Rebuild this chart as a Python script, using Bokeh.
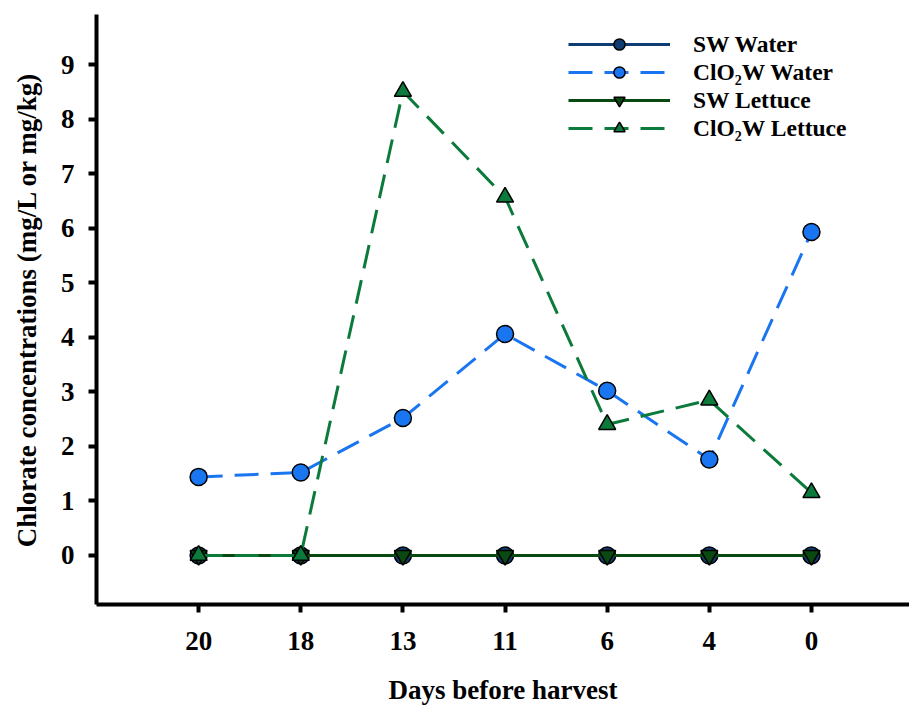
from bokeh.plotting import figure
from bokeh.models import Range1d, FixedTicker, Legend, LegendItem
from bokeh.embed import file_html
from bokeh.resources import INLINE

# Sampling days (days before harvest), plotted at evenly spaced positions
days = ["20", "18", "13", "11", "6", "4", "0"]

# Chlorate concentrations (mg/L for water, mg/kg for lettuce)
sw_water = [0.0, 0.0, 0.0, 0.0, 0.0, 0.0, 0.0]
clo2w_water = [1.44, 1.52, 2.52, 4.06, 3.02, 1.76, 5.93]
sw_lettuce = [0.0, 0.0, 0.0, 0.0, 0.0, 0.0, 0.0]
clo2w_lettuce = [0.0, 0.0, 8.51, 6.57, 2.40, 2.85, 1.15]

y_ticks = [0, 1, 2, 3, 4, 5, 6, 7, 8, 9]

FONT = "'Liberation Serif', 'Times New Roman', serif"
xs = list(range(len(days)))

p = figure(width=909, height=710, output_backend="svg", toolbar_location=None,
           x_range=Range1d(-1, 6.96), y_range=Range1d(-0.9, 9.92),
           min_border_left=96, min_border_right=0, min_border_top=14,
           min_border_bottom=106)

p.outline_line_color = None
p.grid.visible = False
p.background_fill_color = "white"

# Axes
for ax in (p.xaxis[0], p.yaxis[0]):
    ax.axis_line_width = 4
    ax.axis_line_color = "black"
    ax.major_tick_line_width = 4
    ax.major_tick_line_color = "black"
    ax.major_tick_out = 8
    ax.major_tick_in = 0
    ax.minor_tick_line_color = None
    ax.major_label_text_font = FONT
    ax.major_label_text_font_style = "bold"
    ax.major_label_text_font_size = "27px"
    ax.major_label_text_color = "black"
    ax.axis_label_text_font = FONT
    ax.axis_label_text_font_style = "bold"
    ax.axis_label_text_font_size = "27px"
    ax.axis_label_text_color = "black"

p.xaxis.ticker = FixedTicker(ticks=xs)
p.xaxis.major_label_overrides = {i: d for i, d in enumerate(days)}
p.xaxis.major_label_standoff = 19
p.xaxis.axis_label = "Days before harvest"
p.xaxis.axis_label_standoff = 22

p.yaxis.ticker = FixedTicker(ticks=y_ticks)
p.yaxis.major_label_standoff = 14
p.yaxis.axis_label = "Chlorate concentrations (mg/L or mg/kg)"
p.yaxis.axis_label_standoff = 16

# Series
c_sw_w = "#0f3c73"
c_cl_w = "#1a75f0"
c_sw_l = "#0a4a12"
c_cl_l = "#0b7a3a"
dash = "24 12"

l1 = p.line(xs, sw_water, line_color=c_sw_w, line_width=3)
m1 = p.scatter(xs, sw_water, marker="circle", size=17, fill_color=c_sw_w,
               line_color="black", line_width=1.5)

l2 = p.line(xs, clo2w_water, line_color=c_cl_w, line_width=3, line_dash=dash)
m2 = p.scatter(xs, clo2w_water, marker="circle", size=17, fill_color=c_cl_w,
               line_color="black", line_width=1.5)

l3 = p.line(xs, sw_lettuce, line_color=c_sw_l, line_width=3)
m3 = p.scatter(xs, sw_lettuce, marker="inverted_triangle", size=17,
               fill_color=c_sw_l, line_color="black", line_width=1.5)

l4 = p.line(xs, clo2w_lettuce, line_color=c_cl_l, line_width=3, line_dash=dash)
m4 = p.scatter(xs, clo2w_lettuce, marker="triangle", size=17,
               fill_color=c_cl_l, line_color="black", line_width=1.5)

legend = Legend(items=[
    LegendItem(label="SW Water", renderers=[l1, m1]),
    LegendItem(label="ClO\u2082W Water", renderers=[l2, m2]),
    LegendItem(label="SW Lettuce", renderers=[l3, m3]),
    LegendItem(label="ClO\u2082W Lettuce", renderers=[l4, m4]),
])
legend.location = (472, 462)
legend.border_line_color = None
legend.background_fill_alpha = 0
legend.padding = 0
legend.margin = 0
legend.spacing = 0
legend.glyph_width = 102
legend.glyph_height = 28
legend.label_height = 28
legend.label_standoff = 23
legend.label_text_font = FONT
legend.label_text_font_style = "bold"
legend.label_text_font_size = "23.5px"
legend.label_text_color = "black"
p.add_layout(legend, "center")

open("out.html", "w").write(file_html(p, INLINE))
